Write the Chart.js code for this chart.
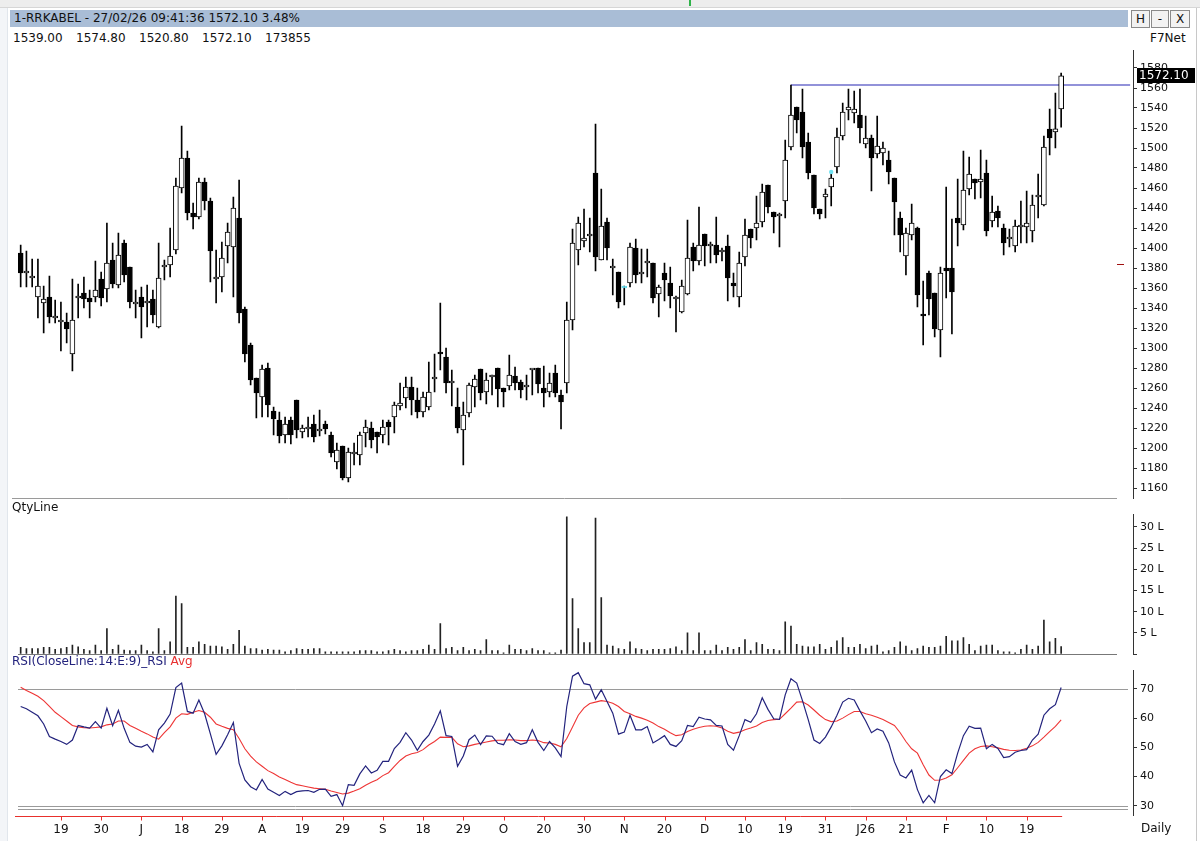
<!doctype html>
<html lang="en">
<head>
  <meta charset="utf-8">
  <title>1-RRKABEL Daily</title>
  <style>
    * {
      margin: 0;
      padding: 0;
    }
    body {
      width: 1200px;
      height: 841px;
      overflow: hidden;
      background: #fff;
      font-family: "DejaVu Sans", Verdana, sans-serif;
      font-size: 11px;
      color: #111;
    }
    .win { position: relative; width: 1200px; height: 841px; background: #fff; }
    .topstrip { position: absolute; left: 0; top: 0; width: 1200px; height: 7px; background: #ededed; border-bottom: 1px solid #d6d6d6; }
    .greenmark { position: absolute; left: 689px; top: 0; width: 2px; height: 6px; background: #2fb34a; }
    .leftedge { position: absolute; left: 0; top: 8px; width: 7px; height: 833px; background: #f3f5f8; border-right: 1px solid #e1e6ec; }
    .rightedge { position: absolute; left: 1196px; top: 8px; width: 1px; height: 833px; background: #c8c8c8; }
    .titlebar { position: absolute; left: 10px; top: 10px; width: 1114px; height: 17px; line-height: 17px; padding-left: 4px; background: #a9bdd6; color: #111; font-size: 12px; }
    .btn { position: absolute; top: 10px; height: 16px; line-height: 16px; text-align: center; background: #f2f2f2; border: 1px solid #8a8a8a; font-size: 12px; }
    .ohlc { position: absolute; left: 13px; top: 31px; font-size: 12px; white-space: pre; }
    .ohlc span { display: inline-block; width: 63px; }
    .f7 { position: absolute; left: 1150px; top: 31px; font-size: 12px; }
    .lbl { position: absolute; font-size: 12px; z-index: 2; }
    canvas { position: absolute; left: 0; }
  </style>
</head>
<body>
<div class="win">
  <div class="topstrip"></div>
  <div class="greenmark"></div>
  <div class="leftedge"></div>
  <div class="rightedge"></div>
  <div class="titlebar" id="title"></div>
  <div class="btn" style="left:1131px;width:17px;">H</div>
  <div class="btn" style="left:1151px;width:16px;">-</div>
  <div class="btn" style="left:1170px;width:18px;">X</div>
  <div class="ohlc" id="ohlc"></div>
  <div class="f7">F7Net</div>

  <canvas id="priceChart" width="1196" height="450" style="top:50px"></canvas>
  <canvas id="qtyChart" width="1196" height="160" style="top:500px"></canvas>
  <canvas id="rsiChart" width="1196" height="181" style="top:660px"></canvas>

  <div class="lbl" style="left:12px;top:500px;">QtyLine</div>
  <div class="lbl" style="left:12px;top:654px;"><span style="color:#23237d">RSI(CloseLine:14:E:9)_RSI</span> <span style="color:#e83030">Avg</span></div>
  <div class="lbl" style="left:1141px;top:821px;">Daily</div>
</div>

<script src="https://cdn.jsdelivr.net/npm/chart.js"></script>
<script>
  // daily candles, oldest first
  const opens = [
    1395, 1375, 1370, 1351, 1345, 1351, 1330, 1326, 1326, 1294,
    1350, 1355, 1350, 1351, 1369, 1359, 1388, 1363, 1405, 1381,
    1344, 1351, 1345, 1349, 1321, 1381, 1383, 1398, 1460, 1490,
    1435, 1431, 1466, 1447, 1369, 1371, 1402, 1401, 1430, 1339,
    1303, 1270, 1251, 1280, 1237, 1228, 1213, 1228, 1248, 1216,
    1219, 1224, 1217, 1224, 1213, 1186, 1202, 1170, 1194, 1193,
    1215, 1220, 1216, 1213, 1226, 1231, 1242, 1250, 1261, 1248,
    1236, 1241, 1269, 1296, 1291, 1265, 1241, 1218, 1235, 1261,
    1279, 1256, 1271, 1280, 1260, 1262, 1272, 1266, 1261, 1278,
    1280, 1260, 1256, 1275, 1253, 1265, 1328, 1398, 1407, 1412,
    1475, 1388, 1426, 1380, 1376, 1360, 1365, 1400, 1374, 1385,
    1385, 1354, 1375, 1365, 1349, 1336, 1354, 1401, 1387, 1414,
    1402, 1403, 1396, 1402, 1365, 1351, 1391, 1419, 1420, 1426,
    1463, 1436, 1432, 1447, 1501, 1541, 1536, 1506, 1473, 1439,
    1451, 1461, 1481, 1512, 1538, 1535, 1533, 1504, 1510, 1494,
    1495, 1488, 1470, 1430, 1392, 1413, 1420, 1334, 1375, 1355,
    1318, 1380, 1380, 1430, 1423, 1459, 1469, 1466, 1475, 1427,
    1437, 1420, 1409, 1402, 1421, 1421, 1417, 1451, 1443, 1519,
    1516, 1539
  ];
  const highs = [
    1403, 1397, 1389, 1389, 1362, 1372, 1348, 1346, 1335, 1369,
    1364, 1371, 1358, 1387, 1376, 1425, 1405, 1415, 1408, 1381,
    1358, 1361, 1363, 1358, 1405, 1388, 1420, 1470, 1522, 1497,
    1445, 1470, 1470, 1450, 1398, 1406, 1425, 1451, 1468, 1341,
    1305, 1270, 1283, 1285, 1241, 1236, 1231, 1231, 1248, 1223,
    1231, 1233, 1238, 1227, 1216, 1205, 1202, 1200, 1205, 1216,
    1228, 1226, 1216, 1228, 1228, 1246, 1265, 1271, 1271, 1260,
    1256, 1286, 1294, 1345, 1300, 1278, 1260, 1246, 1265, 1273,
    1279, 1275, 1273, 1280, 1260, 1293, 1281, 1268, 1273, 1279,
    1280, 1282, 1275, 1283, 1258, 1346, 1419, 1431, 1439, 1430,
    1524, 1459, 1430, 1389, 1376, 1362, 1405, 1409, 1399, 1399,
    1385, 1363, 1385, 1381, 1352, 1368, 1428, 1405, 1441, 1414,
    1406, 1431, 1400, 1413, 1375, 1396, 1429, 1419, 1452, 1464,
    1463, 1436, 1435, 1508, 1563, 1541, 1559, 1515, 1473, 1439,
    1459, 1475, 1520, 1545, 1559, 1557, 1559, 1532, 1513, 1532,
    1506, 1497, 1470, 1436, 1420, 1444, 1421, 1367, 1377, 1355,
    1381, 1461, 1429, 1469, 1497, 1491, 1469, 1498, 1488, 1452,
    1442, 1424, 1419, 1428, 1447, 1457, 1453, 1474, 1512, 1539,
    1555, 1574.8
  ];
  const lows = [
    1361, 1361, 1361, 1330, 1315, 1325, 1325, 1297, 1305, 1277,
    1330, 1340, 1330, 1346, 1342, 1346, 1360, 1360, 1366, 1340,
    1330, 1310, 1321, 1325, 1320, 1368, 1371, 1394, 1455, 1428,
    1419, 1429, 1438, 1366, 1345, 1356, 1385, 1351, 1325, 1286,
    1263, 1230, 1231, 1231, 1213, 1205, 1205, 1204, 1210, 1210,
    1211, 1206, 1212, 1214, 1191, 1179, 1168, 1166, 1183, 1183,
    1201, 1200, 1195, 1205, 1203, 1215, 1238, 1240, 1233, 1230,
    1231, 1238, 1256, 1278, 1255, 1242, 1215, 1183, 1231, 1241,
    1248, 1244, 1253, 1241, 1241, 1258, 1258, 1250, 1248, 1253,
    1255, 1241, 1251, 1251, 1219, 1255, 1318, 1383, 1401, 1396,
    1377, 1388, 1388, 1353, 1340, 1343, 1361, 1365, 1365, 1371,
    1345, 1331, 1347, 1340, 1316, 1335, 1353, 1377, 1383, 1382,
    1385, 1385, 1387, 1347, 1351, 1341, 1382, 1400, 1408, 1421,
    1435, 1415, 1401, 1430, 1498, 1515, 1490, 1469, 1434, 1429,
    1430, 1442, 1475, 1508, 1528, 1525, 1505, 1500, 1457, 1490,
    1483, 1464, 1413, 1396, 1373, 1408, 1341, 1303, 1333, 1311,
    1291, 1350, 1314, 1402, 1418, 1453, 1449, 1450, 1412, 1421,
    1421, 1393, 1401, 1396, 1405, 1405, 1406, 1430, 1442, 1493,
    1500, 1520.8
  ];
  const closes = [
    1375, 1376, 1370, 1362, 1349, 1331, 1330, 1326, 1319, 1328,
    1350, 1349, 1346, 1358, 1350, 1385, 1364, 1393, 1373, 1346,
    1344, 1341, 1345, 1333, 1370, 1381, 1392, 1462, 1490, 1435,
    1431, 1466, 1447, 1397, 1369, 1390, 1416, 1440, 1335, 1294,
    1268, 1255, 1279, 1243, 1229, 1212, 1224, 1213, 1218, 1220,
    1219, 1211, 1217, 1219, 1195, 1198, 1170, 1196, 1194, 1213,
    1221, 1208, 1211, 1221, 1221, 1243, 1245, 1261, 1248, 1236,
    1251, 1256, 1269, 1294, 1265, 1265, 1220, 1233, 1263, 1269,
    1255, 1268, 1271, 1259, 1256, 1273, 1265, 1258, 1261, 1278,
    1264, 1255, 1265, 1255, 1246, 1328, 1405, 1425, 1410, 1412,
    1391, 1422, 1400, 1380, 1346, 1360, 1401, 1373, 1374, 1385,
    1350, 1361, 1368, 1352, 1349, 1362, 1390, 1387, 1403, 1402,
    1402, 1393, 1396, 1370, 1362, 1385, 1413, 1410, 1425, 1456,
    1441, 1431, 1432, 1488, 1533, 1528, 1501, 1475, 1440, 1434,
    1454, 1470, 1511, 1536, 1541, 1539, 1520, 1510, 1490, 1502,
    1500, 1476, 1446, 1413, 1415, 1425, 1353, 1332, 1349, 1319,
    1375, 1377, 1356, 1425, 1458, 1474, 1465, 1469, 1417, 1436,
    1430, 1405, 1409, 1422, 1421, 1425, 1443, 1451, 1501, 1510,
    1519.2, 1572.1
  ];
  // traded quantity, lakh shares
  const volumes = [
    1.6, 1.3, 1.3, 1.3, 1.6, 1.6, 1.1, 1.3, 1.6, 2.1,
    1.7, 1.1, 0.8, 2.1, 0.8, 6.0, 1.1, 2.1, 0.9, 0.8,
    0.8, 2.1, 0.8, 0.5, 6.0, 0.8, 2.9, 13.7, 11.9, 1.6,
    1.6, 2.9, 2.3, 1.9, 1.9, 1.7, 1.1, 2.3, 5.6, 1.9,
    1.3, 1.3, 0.9, 1.1, 0.9, 0.9, 0.5, 0.8, 1.3, 1.1,
    1.1, 1.3, 1.3, 0.5, 0.5, 0.5, 0.5, 0.5, 0.5, 0.8,
    0.8, 0.8, 0.5, 0.5, 0.8, 1.1, 0.8, 0.5, 0.8, 0.8,
    1.1, 2.1, 1.1, 7.2, 1.3, 1.6, 0.8, 1.6, 0.8, 1.1,
    0.8, 3.4, 0.8, 0.8, 0.3, 2.1, 1.1, 1.1, 0.8, 1.3,
    0.8, 0.8, 0.3, 0.3, 0.9, 32.4, 13.1, 6.0, 2.7, 2.7,
    32.1, 13.3, 2.1, 1.9, 1.3, 1.1, 2.9, 1.3, 1.1, 0.8,
    1.1, 1.1, 1.1, 1.3, 1.7, 0.8, 5.0, 0.8, 5.0, 0.8,
    0.8, 2.1, 0.8, 1.6, 1.1, 1.6, 3.4, 0.8, 2.7, 2.3,
    1.1, 1.1, 0.8, 7.6, 6.6, 2.3, 1.9, 1.7, 1.7, 2.3,
    1.1, 1.6, 3.1, 3.9, 1.6, 1.6, 2.3, 1.3, 1.9, 2.1,
    0.5, 0.8, 1.6, 2.9, 1.9, 0.8, 1.3, 1.9, 1.6, 1.6,
    1.9, 4.2, 3.1, 3.1, 3.9, 2.3, 0.8, 1.9, 2.1, 2.1,
    0.8, 0.5, 0.5, 0.3, 1.1, 2.1, 1.1, 1.9, 8.0, 2.9,
    3.7, 1.73855
  ];
  const rsi = [
    64, 63.2, 62, 60.8, 58, 53.7, 52.8, 52, 51, 52.5,
    57.5, 57, 56.6, 58.8, 56.6, 63.4, 57.4, 62.7, 56.5, 51.7,
    50.4, 50.1, 51, 48.4, 56, 58.3, 61.4, 70.5, 72, 62.3,
    61.7, 66.2, 61.5, 54.6, 47.6, 50.5, 54.3, 58.5, 44.5, 38.8,
    36.5, 35.4, 39, 35.7, 34.6, 33.5, 34.9, 33.8, 34.8, 35.1,
    35.2, 34.6, 35.6, 35.7, 33.2, 33.8, 30, 37.2, 37, 40.9,
    43.6, 41.2, 42.1, 45.2, 45.2, 49.6, 51.7, 55, 52.5, 49,
    52, 54.2, 58, 62.5, 54, 53.7, 43.5, 47, 52.6, 54.2,
    50.9, 53.9, 53.8, 51.4, 50.9, 54.7, 52, 51, 51.6, 56,
    51.7, 48.9, 52, 49.8, 46.8, 64, 74.4, 75.6, 71.8, 71.4,
    66.5, 69.7, 65.7, 61.7, 54.5, 55.2, 61, 56, 56, 57.1,
    51.5, 52.7, 54, 51, 50.3, 52.3, 57.5, 57.1, 60.3, 59.7,
    59.4, 57.5, 57.3, 51, 49, 54, 59.5, 58.6, 61.5, 67,
    63, 59.8, 59.6, 68, 73.5, 72, 66, 59.5, 52.5, 51.3,
    53.5, 57, 61, 65.5, 66.8, 66.2, 62.5, 59, 55, 56.3,
    55.5, 51.5, 45, 40.5, 39.5, 42.2, 35.5, 31, 33.5, 31,
    40, 42.3, 41, 48, 54, 57.2, 56.5, 56.6, 49.5, 51,
    49.6, 46.5, 46.8, 48.3, 48.9, 49.2, 52.5, 54.5, 61, 63.2,
    64.6, 70.5
  ];
  const rsiAvg = [
    70.6, 69.5, 68.5, 67.5, 66, 64, 62, 60.5, 59, 57.5,
    57, 56.7, 56.6, 56.8, 57, 57.7, 58, 59, 59, 57.5,
    56.5, 55.5, 54.6, 53.5, 52.8, 55, 57, 60, 61.5, 61.3,
    62, 62.6, 62, 60.3, 58, 57.2, 56.5, 56, 53, 49.5,
    47, 45, 43.5, 42, 41, 39.8, 39, 38, 37.2, 36.8,
    36.4, 36, 35.8, 35.6, 35, 34.5, 34, 34.3, 35, 35.8,
    37, 38, 38.9, 40.3, 41.3, 43.5, 45.5, 47, 47.8, 48.2,
    49.2, 50.8, 52, 53.5, 53.4, 53.4, 51.2, 50.2, 50.5, 51,
    51.4, 51.8, 52.2, 52.4, 52.4, 52.6, 52.5, 52.3, 52.3, 52.5,
    52.3, 51.6, 51.5, 51, 50.2, 53, 57, 61, 63.5, 65,
    65.5, 66, 65.7, 65.1, 64, 62.3, 61.5, 60.6, 60, 59.3,
    58.3, 57.1, 56.2, 55, 54, 54.3, 55.4, 56.2, 56.8, 57.2,
    57.4, 57.2, 56.6, 55.5, 54.8, 55.2, 56, 56.6, 57.3, 58.5,
    59.2, 59.5, 59.6, 61.5, 63.4, 65.5, 65.6, 64.5, 62.8, 61,
    59.5, 58.8, 59, 60, 61.2, 62.3, 62.3, 61.5, 61, 60.3,
    59.5, 58.5, 57.5, 55, 52, 49.5, 48, 44, 40.5, 38.7,
    38.8, 39.5, 40.6, 43, 45.5, 48, 49.5, 50.3, 50.5, 50.2,
    49.8, 49.3, 49, 48.9, 49.1, 49.7, 50.5, 51.7, 53.5, 55.4,
    57.2, 59.4
  ];
  // date labels, one every 7 sessions starting at session 7
  const xTickLabels = ['19', '30', 'J', '18', '29', 'A', '19', '29', 'S', '18', '29', 'O', '20',
                       '30', 'N', '20', 'D', '10', '19', '31', 'J26', '21', 'F', '10', '19'];
  const priceTicks = [1160, 1180, 1200, 1220, 1240, 1260, 1280, 1300, 1320, 1340, 1360,
                      1380, 1400, 1420, 1440, 1460, 1480, 1500, 1520, 1540, 1560, 1580];
  const qtyTicks = [0, 5, 10, 15, 20, 25, 30];
  const rsiTicks = [30, 40, 50, 60, 70];
  const rsiBands = [70, 30];

  const levelPrice = 1563;   // drawn resistance line
  const levelFrom = 134;
  const alertAt = 141;       // cyan marker
  const alertPrice = 1476;
  const cyanCandle = 105;
  const sideMarkPrice = 1384;
  const spareSlots = 12;     // empty space right of last candle

  // header
  const last = closes.length - 1;
  const pct = (closes[last] / closes[last - 1] - 1) * 100;
  document.getElementById('title').textContent =
    '1-RRKABEL - 27/02/26 09:41:36 ' + closes[last].toFixed(2) + ' ' + pct.toFixed(2) + '%';
  document.getElementById('ohlc').innerHTML =
    [opens[last].toFixed(2), highs[last].toFixed(2), lows[last].toFixed(2), closes[last].toFixed(2),
     String(Math.round(volumes[last] * 100000))].map(t => '<span>' + t + '</span>').join('');

  Chart.defaults.font.family = '"DejaVu Sans", Verdana, sans-serif';
  Chart.defaults.font.size = 11;
  Chart.defaults.color = '#111';
  Chart.defaults.animation = false;
  Chart.defaults.plugins.legend.display = false;
  Chart.defaults.plugins.tooltip.enabled = false;

  const slots = Array.from({ length: closes.length + spareSlots }, (_, i) => i);
  const padLeft = 17.8;
  const axisWidth = 63;

  function tickText(i) {
    if (i < 7 || (i - 7) % 7 !== 0) return null;
    return xTickLabels[(i - 7) / 7] || null;
  }

  function rightAxis(min, max, values, fmt) {
    return {
      position: 'right',
      min: min,
      max: max,
      afterBuildTicks: s => { s.ticks = values.map(v => ({ value: v })); },
      afterFit: s => { s.width = axisWidth; s.paddingTop = 0; s.paddingBottom = 0; },
      grid: { drawOnChartArea: false, drawTicks: true, tickLength: 4, color: '#333' },
      border: { display: true, color: '#333' },
      ticks: { autoSkip: false, padding: 3, color: '#111', callback: fmt }
    };
  }

  function hLine(ctx, x1, x2, y, color) {
    ctx.save();
    ctx.strokeStyle = color;
    ctx.lineWidth = 1;
    ctx.beginPath();
    ctx.moveTo(x1, Math.round(y) + 0.5);
    ctx.lineTo(x2, Math.round(y) + 0.5);
    ctx.stroke();
    ctx.restore();
  }

  // price panel
  const bodyFill = opens.map((o, i) => i === cyanCandle ? '#86e6f2' : (closes[i] >= o ? '#fff' : '#000'));
  const bodyLine = opens.map((o, i) => i === cyanCandle ? '#5fd8ea' : '#000');

  new Chart(document.getElementById('priceChart'), {
    type: 'bar',
    data: {
      labels: slots,
      datasets: [
        {
          label: 'body',
          data: opens.map((o, i) => [o, closes[i]]),
          backgroundColor: bodyFill,
          borderColor: bodyLine,
          borderWidth: 1,
          borderSkipped: false,
          barThickness: 5,
          minBarLength: 2,
          grouped: false,
          order: 1
        },
        {
          label: 'wick',
          data: lows.map((l, i) => [l, highs[i]]),
          backgroundColor: '#000',
          borderWidth: 0,
          barThickness: 1,
          grouped: false,
          order: 2
        },
        {
          type: 'line',
          label: 'level',
          data: slots.map(i => i >= levelFrom ? levelPrice : null),
          borderColor: '#2626b4',
          borderWidth: 1.2,
          pointRadius: 0,
          order: 3
        },
        {
          type: 'line',
          label: 'alert',
          data: slots.map(i => i === alertAt ? alertPrice : null),
          showLine: false,
          pointRadius: 2.2,
          pointBorderWidth: 0,
          pointBackgroundColor: '#6fe2f2',
          order: 0
        }
      ]
    },
    options: {
      responsive: false,
      layout: { autoPadding: false, padding: { left: padLeft, right: 0, top: 0, bottom: 2 } },
      scales: {
        x: { type: 'category', offset: true, display: false },
        y: rightAxis(1150, 1598, priceTicks, v => String(v))
      }
    },
    plugins: [{
      id: 'priceExtras',
      afterDraw(chart) {
        const ctx = chart.ctx;
        const y = chart.scales.y;
        hLine(ctx, 12, 1117, chart.chartArea.bottom, '#9a9a9a');
        // dark red marker on the right
        hLine(ctx, 1117, 1124, y.getPixelForValue(sideMarkPrice), '#a01010');
        // last price box
        const py = y.getPixelForValue(closes[last]);
        ctx.save();
        ctx.fillStyle = '#000';
        ctx.fillRect(1137, Math.round(py) - 8, 58, 15);
        ctx.fillStyle = '#fff';
        ctx.font = '12px "DejaVu Sans", Verdana, sans-serif';
        ctx.textBaseline = 'middle';
        ctx.fillText(closes[last].toFixed(2), 1139, Math.round(py));
        ctx.restore();
      }
    }]
  });

  // quantity panel
  new Chart(document.getElementById('qtyChart'), {
    type: 'bar',
    data: {
      labels: slots,
      datasets: [{
        label: 'qty',
        data: volumes,
        backgroundColor: '#222',
        borderWidth: 0,
        barThickness: 1
      }]
    },
    options: {
      responsive: false,
      layout: { autoPadding: false, padding: { left: padLeft, right: 0, top: 14, bottom: 6 } },
      scales: {
        x: { type: 'category', offset: true, display: false },
        y: rightAxis(0, 33.07, qtyTicks, v => v === 0 ? '' : v + ' L')
      }
    },
    plugins: [{
      id: 'qtyBase',
      afterDatasetsDraw(chart) {
        hLine(chart.ctx, 18, 1117, chart.scales.y.getPixelForValue(0), '#777');
      }
    }]
  });

  // RSI panel
  new Chart(document.getElementById('rsiChart'), {
    type: 'line',
    data: {
      labels: slots,
      datasets: [
        {
          label: 'RSI',
          data: rsi,
          borderColor: '#23237d',
          borderWidth: 1.2,
          pointRadius: 0,
          tension: 0
        },
        {
          label: 'Avg',
          data: rsiAvg,
          borderColor: '#ee3535',
          borderWidth: 1.1,
          pointRadius: 0,
          tension: 0
        }
      ]
    },
    options: {
      responsive: false,
      layout: { autoPadding: false, padding: { left: padLeft, right: 0, top: 10, bottom: 0 } },
      scales: {
        x: {
          type: 'category',
          offset: true,
          afterFit: s => { s.height = 26; s.paddingLeft = 0; s.paddingRight = 0; },
          border: { display: false },
          grid: { offset: false, drawOnChartArea: false, drawTicks: true, tickLength: 5, color: 'rgba(0,0,0,0)' },
          ticks: {
            autoSkip: false,
            maxRotation: 0,
            padding: 3,
            color: '#111',
            font: { size: 12 },
            callback: (v, i) => tickText(i)
          }
        },
        y: rightAxis(26.8, 76.5, rsiTicks, v => String(v))
      }
    },
    plugins: [{
      id: 'rsiLines',
      beforeDatasetsDraw(chart) {
        const ctx = chart.ctx;
        const y = chart.scales.y;
        rsiBands.forEach(b => hLine(ctx, 18, 1128, y.getPixelForValue(b), '#9a9a9a'));
        hLine(ctx, 18, 1128, y.getPixelForValue(30) + 3.5, '#9a9a9a');
      },
      afterDraw(chart) {
        const ctx = chart.ctx;
        const x = chart.scales.x;
        const meta = chart.getDatasetMeta(0);
        const base = Math.round(chart.scales.y.getPixelForValue(30) + 10) + 0.5;
        const xEnd = meta.data[last].x + 1;
        ctx.save();
        ctx.strokeStyle = '#e8302c';
        ctx.lineWidth = 1;
        ctx.beginPath();
        ctx.moveTo(15, base);
        ctx.lineTo(xEnd, base);
        slots.forEach(i => {
          if (tickText(i) === null) return;
          const tx = Math.round(meta.data[i] ? meta.data[i].x : x.getPixelForTick(i)) + 0.5;
          ctx.moveTo(tx, base);
          ctx.lineTo(tx, base + 4);
        });
        ctx.stroke();
        ctx.restore();
      }
    }]
  });
</script>
</body>
</html>
